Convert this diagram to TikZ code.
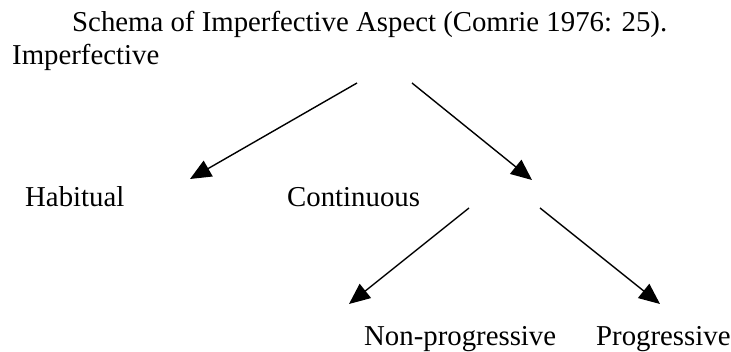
\documentclass[tikz,border=0pt]{standalone}
\usepackage{fontspec}
\setmainfont{Liberation Serif}
\usetikzlibrary{arrows.meta}
\begin{document}
\begin{tikzpicture}[x=1pt,y=-1pt,
  lbl/.style={anchor=base west,inner sep=0pt,font=\fontsize{28.8}{34}\selectfont},
  conn/.style={line width=1.4pt,-{Triangle[length=21pt,width=18pt]}}]
\useasboundingbox (0,0) rectangle (731,352);
\node[lbl] (title) at (72,32) {Schema of Imperfective Aspect (Comrie 1976: 25).};
\node[lbl] (imp) at (12,65) {Imperfective};
\node[lbl] (hab) at (25,207) {Habitual};
\node[lbl] (cont) at (287,207) {Continuous};
\node[lbl] (nonprog) at (364,346) {Non-progressive};
\node[lbl] (prog) at (596,346) {Progressive};
\coordinate (a1s) at (357,83);
\coordinate (a1e) at (190,179);
\coordinate (a2s) at (412,83);
\coordinate (a2e) at (532,180);
\coordinate (a3s) at (469,208);
\coordinate (a3e) at (349,304);
\coordinate (a4s) at (540,208);
\coordinate (a4e) at (660,304);
\draw[conn] (a1s) -- (a1e);
\draw[conn] (a2s) -- (a2e);
\draw[conn] (a3s) -- (a3e);
\draw[conn] (a4s) -- (a4e);
\end{tikzpicture}
\end{document}
